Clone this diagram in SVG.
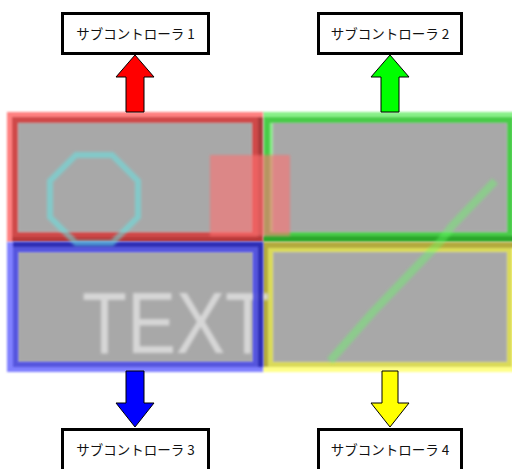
<svg xmlns="http://www.w3.org/2000/svg" width="512" height="469" viewBox="0 0 512 469">
<style>
.box{fill:#fff;stroke:#000;stroke-width:3}
.lbl{font-family:"Noto Sans CJK JP","Noto Sans",sans-serif;font-size:13.5px;fill:#111;text-anchor:middle}
.arr{stroke:#000;stroke-width:1}
.gray{fill:#a8a8a8;stroke:#b6b6b6;stroke-width:1}
</style>
<defs>
<filter id="blur" x="-20%" y="-20%" width="140%" height="140%"><feGaussianBlur stdDeviation="1.8"/></filter>
<filter id="blur2" x="-10%" y="-10%" width="120%" height="120%"><feGaussianBlur stdDeviation="0.8"/></filter>
</defs>
<rect width="512" height="469" fill="#fff"/>
<g id="screen">
  <g id="region-green" filter="url(#blur2)">
    <rect x="263" y="112" width="254" height="130" fill="#88f088"/>
    <rect x="273" y="122" width="234" height="110" class="gray"/>
    <rect x="267" y="120" width="243" height="115" fill="none" stroke="#48cc48" stroke-width="6"/>
    <rect x="263" y="236" width="254" height="6" fill="#2aa82a"/>
  </g>
  <g id="region-red" filter="url(#blur2)">
    <rect x="7" y="112" width="256" height="130" fill="#ff8080"/>
    <rect x="18" y="122" width="234" height="110" class="gray"/>
    <rect x="15" y="120" width="240" height="115" fill="none" stroke="#cf4a4a" stroke-width="6"/>
    <rect x="258" y="117" width="5" height="125" fill="#a83a3a"/>
    <rect x="12" y="237" width="251" height="5" fill="#b83838"/>
  </g>
  <g id="region-yellow" filter="url(#blur2)">
    <rect x="263" y="242" width="254" height="130" fill="#ffff88"/>
    <rect x="273" y="252" width="234" height="110" class="gray"/>
    <rect x="270.5" y="249.5" width="239" height="115" fill="none" stroke="#dada58" stroke-width="5"/>
    <rect x="263" y="242" width="254" height="6" fill="#b4aa3c"/>
    <rect x="263" y="242" width="5" height="125" fill="#b4aa3c"/>
  </g>
  <g id="region-blue">
    <g filter="url(#blur2)">
      <rect x="7" y="242" width="256" height="130" fill="#8080ff"/>
      <rect x="18" y="252" width="235" height="110" class="gray"/>
    </g>
    <text x="82" y="353" font-family="Liberation Sans, Arial, sans-serif" font-size="88" textLength="188" lengthAdjust="spacingAndGlyphs" fill="#dedede" fill-opacity="0.85" filter="url(#blur)">TEXT</text>
    <g filter="url(#blur2)" opacity="0.95">
      <rect x="15.5" y="249.5" width="240" height="115" fill="none" stroke="#5252dc" stroke-width="5"/>
      <rect x="13" y="242" width="250" height="5" fill="#2c2cb0"/>
      <rect x="258" y="242" width="5" height="125" fill="#2c2cb0"/>
    </g>
  </g>
  <g id="content" filter="url(#blur)">
    <polygon points="76,155 112,155 138,181 138,217 112,243 76,243 50,217 50,181" fill="none" stroke="rgb(100,230,230)" stroke-opacity="0.55" stroke-width="6"/>
    <rect x="210" y="155" width="80" height="81" fill="#ff7070" fill-opacity="0.6"/>
    <polyline points="495,181 452,226 440,242 373,312 330,361" fill="none" stroke="rgb(100,255,100)" stroke-opacity="0.4" stroke-width="8" stroke-linejoin="round"/>
  </g>
</g>
<g id="connectors">
  <polygon class="arr" fill="#ff0000" points="135,55 154,77 144,77 144,112 126,112 126,77 116,77"/>
  <polygon class="arr" fill="#00ff00" points="390,55 409,77 399,77 399,112 381,112 381,77 371,77"/>
  <polygon class="arr" fill="#0000ff" points="126,371 144,371 144,403 154,403 135,427 116,403 126,403"/>
  <polygon class="arr" fill="#ffff00" points="382,371 398,371 398,403 409,403 390,427 371,403 382,403"/>
</g>
<g id="node1"><rect class="box" x="62.5" y="13.5" width="146" height="40"/><text class="lbl" x="135.5" y="38.5">サブコントローラ 1</text></g>
<g id="node2"><rect class="box" x="318.5" y="13.5" width="143" height="40"/><text class="lbl" x="390" y="38.5">サブコントローラ 2</text></g>
<g id="node3"><rect class="box" x="62.5" y="429.5" width="146" height="42"/><text class="lbl" x="135.5" y="455">サブコントローラ 3</text></g>
<g id="node4"><rect class="box" x="318.5" y="429.5" width="143" height="42"/><text class="lbl" x="390" y="455">サブコントローラ 4</text></g>
</svg>
